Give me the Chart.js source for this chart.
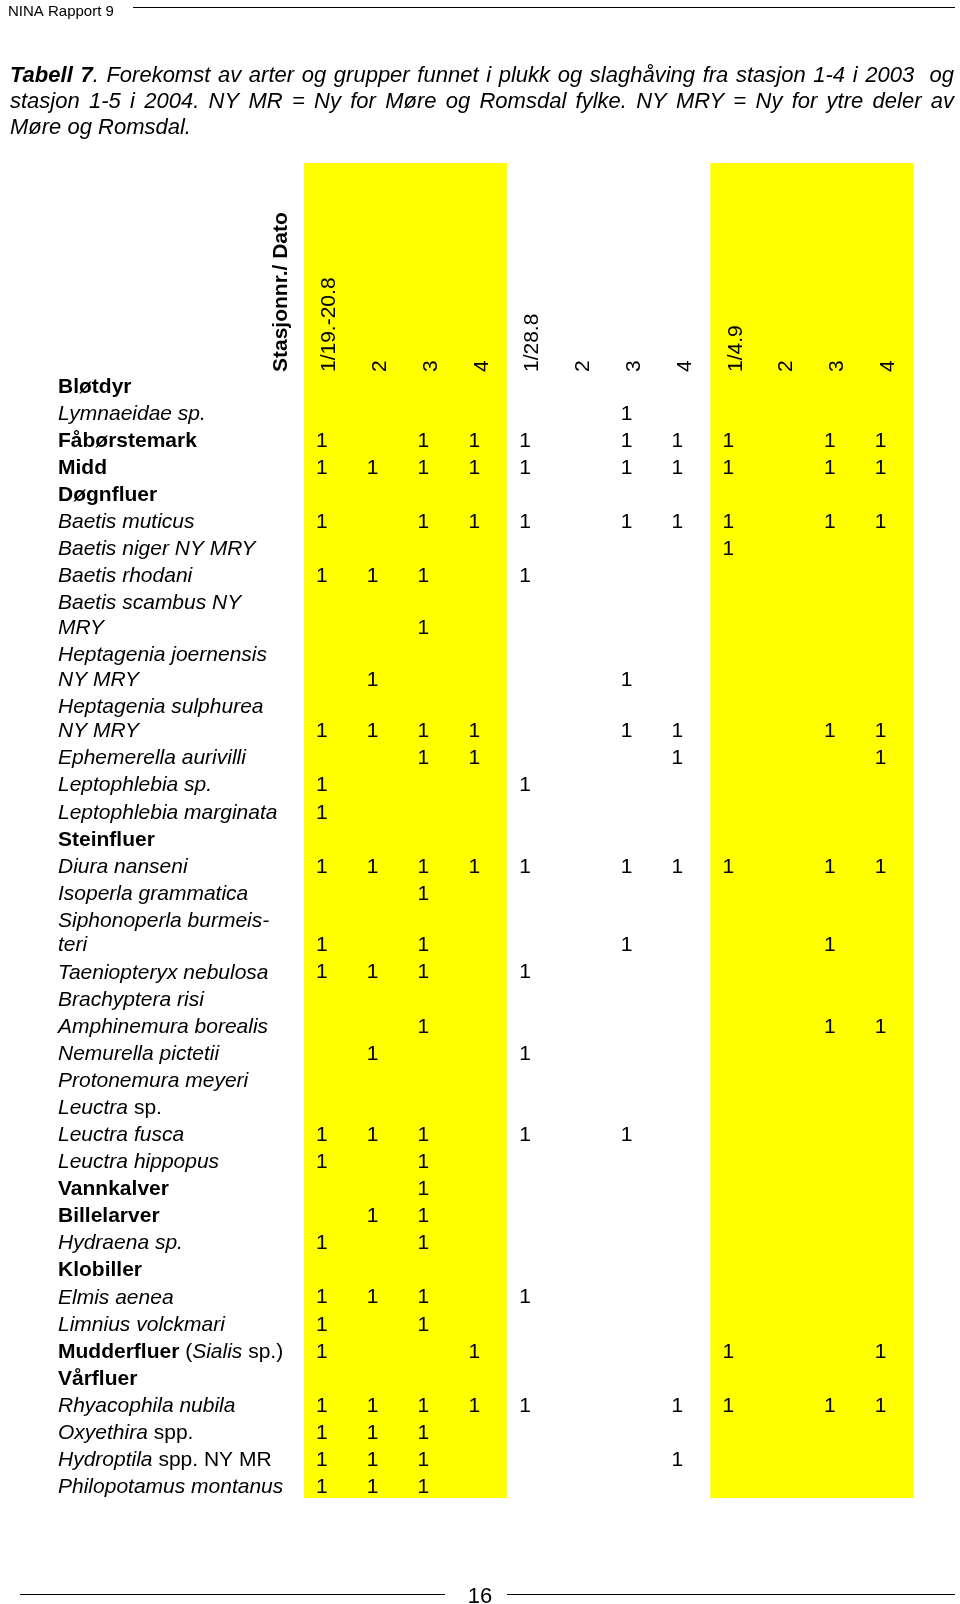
<!DOCTYPE html>
<html>
<head>
<meta charset="utf-8">
<script src="https://cdn.jsdelivr.net/npm/chart.js@4.4.1/dist/chart.umd.min.js"></script>
<style>
  html, body { margin: 0; padding: 0; background: #fff; }
  #wrap { position: relative; width: 960px; height: 1604px; }
</style>
</head>
<body>
<div id="wrap"><canvas id="chart" width="960" height="1604"></canvas></div>
<script>
// station / date headers, one per column
const columnLabels = ['1/19.-20.8', '2', '3', '4', '1/28.8', '2', '3', '4', '1/4.9', '2', '3', '4'];
const headerLabel = 'Stasjonnr./ Dato';
// column groups with yellow shading (first and last column index)
const shadedGroups = [[0, 3], [8, 11]];

// row labels: every row is a list of lines, every line a list of [text, style] runs
// style: b = bold, i = italic, n = normal
const rowLabels = [
  [[['Bløtdyr', 'b']]],
  [[['Lymnaeidae sp.', 'i']]],
  [[['Fåbørstemark', 'b']]],
  [[['Midd', 'b']]],
  [[['Døgnfluer', 'b']]],
  [[['Baetis muticus', 'i']]],
  [[['Baetis niger NY MRY', 'i']]],
  [[['Baetis rhodani', 'i']]],
  [[['Baetis scambus NY', 'i']], [['MRY', 'i']]],
  [[['Heptagenia joernensis', 'i']], [['NY MRY', 'i']]],
  [[['Heptagenia sulphurea', 'i']], [['NY MRY', 'i']]],
  [[['Ephemerella aurivilli', 'i']]],
  [[['Leptophlebia sp.', 'i']]],
  [[['Leptophlebia marginata', 'i']]],
  [[['Steinfluer', 'b']]],
  [[['Diura nanseni', 'i']]],
  [[['Isoperla grammatica', 'i']]],
  [[['Siphonoperla burmeis-', 'i']], [['teri', 'i']]],
  [[['Taeniopteryx nebulosa', 'i']]],
  [[['Brachyptera risi', 'i']]],
  [[['Amphinemura borealis', 'i']]],
  [[['Nemurella pictetii', 'i']]],
  [[['Protonemura meyeri', 'i']]],
  [[['Leuctra', 'i'], [' sp.', 'n']]],
  [[['Leuctra fusca', 'i']]],
  [[['Leuctra hippopus', 'i']]],
  [[['Vannkalver', 'b']]],
  [[['Billelarver', 'b']]],
  [[['Hydraena sp.', 'i']]],
  [[['Klobiller', 'b']]],
  [[['Elmis aenea', 'i']]],
  [[['Limnius volckmari', 'i']]],
  [[['Mudderfluer', 'b'], [' (', 'n'], ['Sialis', 'i'], [' sp.)', 'n']]],
  [[['Vårfluer', 'b']]],
  [[['Rhyacophila nubila', 'i']]],
  [[['Oxyethira', 'i'], [' spp.', 'n']]],
  [[['Hydroptila', 'i'], [' spp. NY MR', 'n']]],
  [[['Philopotamus montanus', 'i']]]
];

// occurrence per row, 12 columns (null = not found)
const _ = null;
const occurrence = [
  [_, _, _, _, _, _, _, _, _, _, _, _],
  [_, _, _, _, _, _, 1, _, _, _, _, _],
  [1, _, 1, 1, 1, _, 1, 1, 1, _, 1, 1],
  [1, 1, 1, 1, 1, _, 1, 1, 1, _, 1, 1],
  [_, _, _, _, _, _, _, _, _, _, _, _],
  [1, _, 1, 1, 1, _, 1, 1, 1, _, 1, 1],
  [_, _, _, _, _, _, _, _, 1, _, _, _],
  [1, 1, 1, _, 1, _, _, _, _, _, _, _],
  [_, _, 1, _, _, _, _, _, _, _, _, _],
  [_, 1, _, _, _, _, 1, _, _, _, _, _],
  [1, 1, 1, 1, _, _, 1, 1, _, _, 1, 1],
  [_, _, 1, 1, _, _, _, 1, _, _, _, 1],
  [1, _, _, _, 1, _, _, _, _, _, _, _],
  [1, _, _, _, _, _, _, _, _, _, _, _],
  [_, _, _, _, _, _, _, _, _, _, _, _],
  [1, 1, 1, 1, 1, _, 1, 1, 1, _, 1, 1],
  [_, _, 1, _, _, _, _, _, _, _, _, _],
  [1, _, 1, _, _, _, 1, _, _, _, 1, _],
  [1, 1, 1, _, 1, _, _, _, _, _, _, _],
  [_, _, _, _, _, _, _, _, _, _, _, _],
  [_, _, 1, _, _, _, _, _, _, _, 1, 1],
  [_, 1, _, _, 1, _, _, _, _, _, _, _],
  [_, _, _, _, _, _, _, _, _, _, _, _],
  [_, _, _, _, _, _, _, _, _, _, _, _],
  [1, 1, 1, _, 1, _, 1, _, _, _, _, _],
  [1, _, 1, _, _, _, _, _, _, _, _, _],
  [_, _, 1, _, _, _, _, _, _, _, _, _],
  [_, 1, 1, _, _, _, _, _, _, _, _, _],
  [1, _, 1, _, _, _, _, _, _, _, _, _],
  [_, _, _, _, _, _, _, _, _, _, _, _],
  [1, 1, 1, _, 1, _, _, _, _, _, _, _],
  [1, _, 1, _, _, _, _, _, _, _, _, _],
  [1, _, _, 1, _, _, _, _, 1, _, _, 1],
  [_, _, _, _, _, _, _, _, _, _, _, _],
  [1, 1, 1, 1, 1, _, _, 1, 1, _, 1, 1],
  [1, 1, 1, _, _, _, _, _, _, _, _, _],
  [1, 1, 1, _, _, _, _, 1, _, _, _, _],
  [1, 1, 1, _, _, _, _, _, _, _, _, _]
];

const captionLines = [
  [['Tabell 7', 'bi'], ['. Forekomst av arter og grupper funnet i plukk og slaghåving fra stasjon 1-4 i 2003  og', 'i']],
  [['stasjon 1-5 i 2004. NY MR = Ny for Møre og Romsdal fylke. NY MRY = Ny for ytre deler av', 'i']],
  [['Møre og Romsdal.', 'i']]
];
const runningHead = 'NINA Rapport 9';
const pageNumber = '16';

const FAMILY = '"Liberation Sans", Arial, Helvetica, sans-serif';
function fontOf(style, size) {
  const s = { b: 'bold ', i: 'italic ', bi: 'italic bold ', n: '' }[style] || '';
  return s + size + 'px ' + FAMILY;
}

// runs of mixed style on one line; optionally justified between x0 and x1
function drawRuns(ctx, runs, x0, y, size, x1) {
  const tokens = [];
  runs.forEach(([text, st]) => {
    text.split(/( )/).forEach(part => {
      if (part === ' ') tokens.push({ space: true, st });
      else if (part) tokens.push({ text: part, st });
    });
  });
  let used = 0, gaps = 0;
  tokens.forEach(t => {
    ctx.font = fontOf(t.st, size);
    used += ctx.measureText(t.space ? ' ' : t.text).width;
    if (t.space) gaps++;
  });
  const extra = (x1 && gaps) ? (x1 - x0 - used) / gaps : 0;
  let x = x0;
  tokens.forEach(t => {
    ctx.font = fontOf(t.st, size);
    if (t.space) {
      x += ctx.measureText(' ').width + extra;
    } else {
      ctx.fillText(t.text, x, y);
      x += ctx.measureText(t.text).width;
    }
  });
}

// vertical layout: one unit per row, wrapped lines a little tighter
const wrapStep = 0.908;
const rowFirstLine = [];
const rowDataLine = [];
let cursor = 0;
rowLabels.forEach(lines => {
  rowFirstLine.push(cursor);
  const last = cursor + (lines.length - 1) * wrapStep;
  rowDataLine.push(last);
  cursor = last + 1;
});

const points = [];
occurrence.forEach((row, r) => {
  row.forEach((v, c) => {
    if (v !== null) points.push({ x: c, y: rowDataLine[r], v });
  });
});

const FS = 21;

const tablePlugin = {
  id: 'tableText',
  beforeDatasetsDraw(chart) {
    const { ctx, chartArea, scales: { x } } = chart;
    ctx.save();
    ctx.fillStyle = '#ffff00';
    shadedGroups.forEach(([a, b]) => {
      const left = x.getPixelForValue(a - 0.5);
      const right = x.getPixelForValue(b + 0.5);
      ctx.fillRect(left, chartArea.top, right - left, chartArea.bottom - chartArea.top);
    });
    ctx.restore();
  },
  afterDatasetsDraw(chart) {
    const { ctx, scales: { x, y } } = chart;
    ctx.save();
    ctx.fillStyle = '#000';
    ctx.textBaseline = 'middle';

    // rotated column headers
    const headY = y.getPixelForValue(-0.55);
    const drawUp = (text, px, font) => {
      ctx.save();
      ctx.translate(px, headY);
      ctx.rotate(-Math.PI / 2);
      ctx.font = font;
      ctx.textAlign = 'left';
      ctx.fillText(text, 0, 0);
      ctx.restore();
    };
    drawUp(headerLabel, x.getPixelForValue(-0.95), fontOf('b', FS));
    columnLabels.forEach((lab, i) => drawUp(lab, x.getPixelForValue(i), fontOf('n', FS)));

    // row labels
    ctx.textAlign = 'left';
    rowLabels.forEach((lines, r) => {
      lines.forEach((runs, k) => {
        drawRuns(ctx, runs, 58, y.getPixelForValue(rowFirstLine[r] + k * wrapStep), FS);
      });
    });

    // the cell values, at the points placed by the scales
    const meta = chart.getDatasetMeta(0);
    const half = (x.getPixelForValue(1) - x.getPixelForValue(0)) / 2;
    ctx.font = fontOf('n', FS);
    meta.data.forEach((el, i) => {
      ctx.fillText(String(points[i].v), el.x - half + 12, el.y);
    });
    ctx.restore();
  },
  afterDraw(chart) {
    const { ctx } = chart;
    ctx.save();
    ctx.fillStyle = '#000';
    ctx.strokeStyle = '#000';
    ctx.textBaseline = 'alphabetic';
    ctx.textAlign = 'left';

    // running head
    ctx.font = fontOf('n', 15);
    ctx.fillText(runningHead, 8, 15.5);
    ctx.lineWidth = 1;
    ctx.beginPath();
    ctx.moveTo(133, 7.5);
    ctx.lineTo(955, 7.5);
    ctx.stroke();

    // caption
    captionLines.forEach((runs, i) => {
      drawRuns(ctx, runs, 10, 82 + i * 26, 22, i < captionLines.length - 1 ? 954 : 0);
    });

    // page number
    ctx.font = fontOf('n', 22);
    ctx.textAlign = 'center';
    ctx.fillText(pageNumber, 480, 1603);
    ctx.beginPath();
    ctx.moveTo(20, 1594.5);
    ctx.lineTo(445, 1594.5);
    ctx.moveTo(507, 1594.5);
    ctx.lineTo(955, 1594.5);
    ctx.stroke();
    ctx.restore();
  }
};

new Chart(document.getElementById('chart'), {
  type: 'scatter',
  data: {
    datasets: [{
      data: points,
      pointRadius: 0,
      pointHoverRadius: 0,
      showLine: false
    }]
  },
  options: {
    responsive: false,
    animation: false,
    devicePixelRatio: 1,
    layout: { padding: { left: 304, right: 46.4, top: 163, bottom: 106 } },
    scales: {
      x: { type: 'linear', min: -0.5, max: 11.5, display: false },
      y: { type: 'linear', min: -8.268, max: 41.03, reverse: true, display: false }
    },
    plugins: {
      legend: { display: false },
      tooltip: { enabled: false },
      title: { display: false }
    },
    events: []
  },
  plugins: [tablePlugin]
});
</script>
</body>
</html>
